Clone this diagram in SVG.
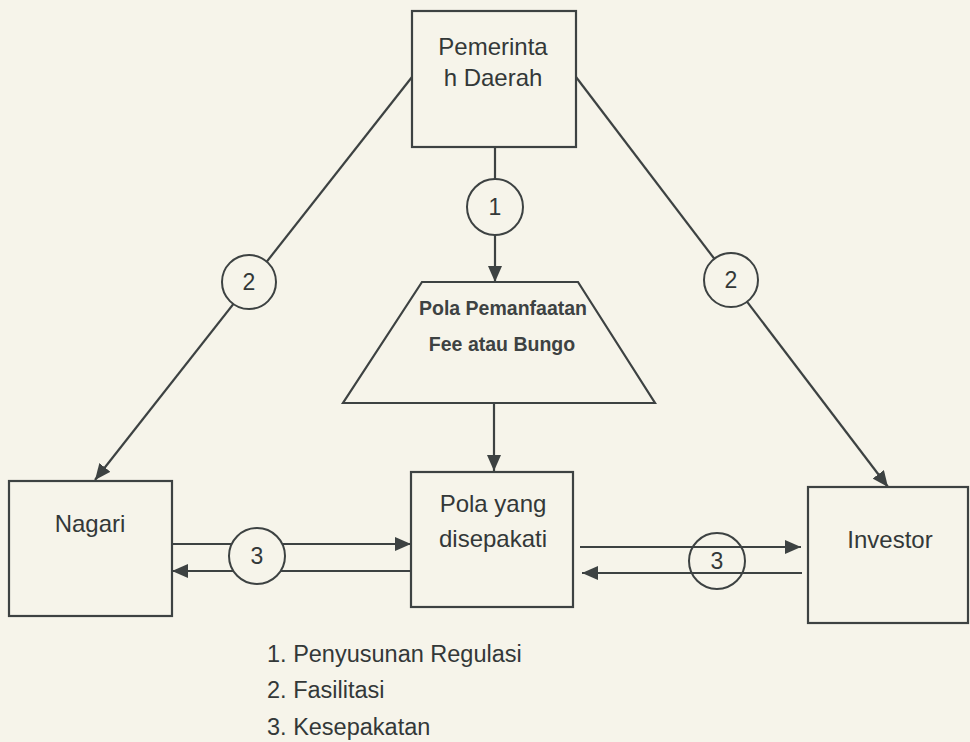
<svg xmlns="http://www.w3.org/2000/svg" width="970" height="742" viewBox="0 0 970 742">
<defs>
<style>
.bg{fill:#f6f4ea}
.box{fill:none;stroke:#3d4242;stroke-width:2.2}
.ln{fill:none;stroke:#3d4242;stroke-width:2.2}
.arr{marker-end:url(#ah)}
.circ{fill:#f6f4ea;stroke:#3d4242;stroke-width:2}
.circo{fill:none;stroke:#3d4242;stroke-width:2}
.t{font-family:"Liberation Sans",Arial,sans-serif;font-size:24px;fill:#333838;text-anchor:middle}
.tb{font-family:"Liberation Sans",Arial,sans-serif;font-size:19.5px;font-weight:bold;fill:#3d4242;text-anchor:middle}
.n{font-family:"Liberation Sans",Arial,sans-serif;font-size:23px;fill:#333838;text-anchor:middle}
.lg{font-family:"Liberation Sans",Arial,sans-serif;font-size:23.5px;fill:#333838}
</style>
<marker id="ah" viewBox="0 0 16 14" refX="16" refY="7" markerWidth="16" markerHeight="14" markerUnits="userSpaceOnUse" orient="auto">
<path d="M0,0 L16,7 L0,14 z" fill="#3d4242"/>
</marker>
</defs>
<rect class="bg" x="0" y="0" width="970" height="742"/>

<g id="connectors">
<line class="ln" x1="495" y1="147" x2="495" y2="179"/>
<line class="ln arr" x1="495" y1="235" x2="495" y2="282"/>
<line class="ln arr" x1="494" y1="403" x2="494" y2="471"/>
<line class="ln arr" x1="412" y1="77" x2="95" y2="480"/>
<line class="ln arr" x1="576" y1="77" x2="888" y2="487"/>
<line class="ln arr" x1="172" y1="544" x2="411" y2="544"/>
<line class="ln arr" x1="411" y1="571" x2="172" y2="571"/>
<line class="ln arr" x1="580" y1="547" x2="801" y2="547"/>
<line class="ln arr" x1="802" y1="573" x2="582" y2="573"/>
</g>

<g id="label-1">
<circle class="circ" cx="495" cy="207" r="28"/>
<text class="n" x="495" y="215">1</text>
</g>
<g id="label-2-left">
<circle class="circ" cx="249" cy="282" r="27"/>
<text class="n" x="249" y="290">2</text>
</g>
<g id="label-2-right">
<circle class="circ" cx="731" cy="280" r="27"/>
<text class="n" x="731" y="288">2</text>
</g>
<g id="label-3-left">
<circle class="circ" cx="257" cy="556" r="28"/>
<text class="n" x="257" y="564">3</text>
</g>
<g id="label-3-right">
<circle class="circo" cx="717" cy="561" r="28"/>
<text class="n" x="717" y="569">3</text>
</g>

<g id="pemerintah-daerah">
<rect class="box" x="412" y="11" width="164" height="136"/>
<text class="t" x="493" y="55">Pemerinta</text>
<text class="t" x="493" y="86">h Daerah</text>
</g>

<g id="pola-pemanfaatan">
<polygon class="box" points="422,282 578,282 655,403 343,403"/>
<text class="tb" x="503" y="315">Pola Pemanfaatan</text>
<text class="tb" x="502" y="351">Fee atau Bungo</text>
</g>

<g id="pola-disepakati">
<rect class="box" x="411" y="472" width="162" height="135"/>
<text class="t" x="493" y="512">Pola yang</text>
<text class="t" x="493" y="547">disepakati</text>
</g>

<g id="nagari">
<rect class="box" x="9" y="481" width="163" height="135"/>
<text class="t" x="90" y="532">Nagari</text>
</g>

<g id="investor">
<rect class="box" x="808" y="487" width="160" height="136"/>
<text class="t" x="890" y="548">Investor</text>
</g>

<g id="legend">
<text class="lg" x="267" y="662">1. Penyusunan Regulasi</text>
<text class="lg" x="267" y="698">2. Fasilitasi</text>
<text class="lg" x="267" y="735">3. Kesepakatan</text>
</g>
</svg>
